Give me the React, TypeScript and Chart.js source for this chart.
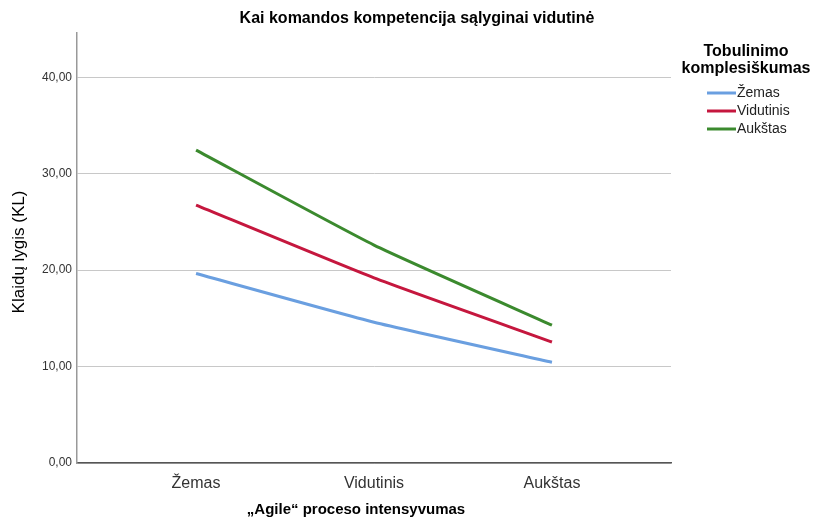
import React, { useEffect, useRef } from "react";
import { Chart, registerables } from "chart.js";

Chart.register(...registerables);

const categories = ["Žemas", "Vidutinis", "Aukštas"];
const seriesNames = ["Žemas", "Vidutinis", "Aukštas"];
const zemas = [19.65, 14.6, 10.45];
const vidutinis = [26.75, 19.2, 12.55];
const aukstas = [32.45, 22.6, 14.3];
const yTicks = [0, 10, 20, 30, 40];
const colors = ["#6a9fe0", "#c5173e", "#3b8a2e"];

const FONT = '"Liberation Sans", Arial, sans-serif';

export default function App() {
  const ref = useRef<HTMLCanvasElement | null>(null);

  useEffect(() => {
    if (!ref.current) return;
    const seriesValues = [zemas, vidutinis, aukstas];
    const datasets = seriesValues.map((vals, i) => ({
      label: seriesNames[i],
      data: vals.map((v, j) => ({ x: j, y: v })),
      borderColor: colors[i],
      backgroundColor: colors[i],
      borderWidth: 3,
      pointRadius: 0,
      tension: 0.15,
      fill: false,
    }));

    const decor = {
      id: "decor",
      afterDraw(chart: any) {
        const ctx = chart.ctx;
        const area = chart.chartArea;
        ctx.save();
        ctx.fillStyle = "#000";
        ctx.textBaseline = "middle";
        // main title
        ctx.font = `bold 16px ${FONT}`;
        ctx.textAlign = "center";
        ctx.fillText("Kai komandos kompetencija sąlyginai vidutinė", 417, 19);
        // x axis title
        ctx.font = `bold 15px ${FONT}`;
        ctx.fillText("„Agile“ proceso intensyvumas", 356, 510);
        // y axis title
        ctx.save();
        ctx.translate(19, 252);
        ctx.rotate(-Math.PI / 2);
        ctx.font = `17px ${FONT}`;
        ctx.fillText("Klaidų lygis (KL)", 0, 0);
        ctx.restore();
        // legend
        ctx.font = `bold 16px ${FONT}`;
        ctx.textAlign = "center";
        ctx.fillText("Tobulinimo", 746, 52);
        ctx.fillText("komplesiškumas", 746, 69);
        ctx.font = `14px ${FONT}`;
        ctx.textAlign = "left";
        seriesNames.forEach((n, i) => {
          const y = 93 + i * 18;
          ctx.strokeStyle = colors[i];
          ctx.lineWidth = 3;
          ctx.beginPath();
          ctx.moveTo(707, y);
          ctx.lineTo(736, y);
          ctx.stroke();
          ctx.fillStyle = "#222";
          ctx.fillText(n, 737, y);
        });
        ctx.restore();
      },
    };

    const chart = new Chart(ref.current, {
      type: "line",
      data: { datasets },
      options: {
        animation: false,
        responsive: false,
        maintainAspectRatio: false,
        layout: { padding: { left: 0, top: 33, right: 147, bottom: 0 } },
        plugins: {
          legend: { display: false },
          tooltip: { enabled: false },
          title: { display: false },
        },
        scales: {
          x: {
            type: "linear",
            min: -0.669,
            max: 2.669,
            afterBuildTicks: (scale: any) => {
              scale.ticks = categories.map((_, i) => ({ value: i }));
            },
            afterFit: (scale: any) => {
              scale.height = 57;
            },
            ticks: {
              callback: (v: any) => categories[v as number] ?? "",
              font: { family: FONT, size: 16 },
              color: "#333",
              padding: 11,
              maxRotation: 0,
            },
            grid: { display: false, drawTicks: false },
            border: { color: "#555", width: 1.5 },
          },
          y: {
            type: "linear",
            min: 0,
            max: 44.6,
            afterBuildTicks: (scale: any) => {
              scale.ticks = yTicks.map((v) => ({ value: v }));
            },
            afterFit: (scale: any) => {
              scale.width = 77;
            },
            ticks: {
              callback: (v: any) => Number(v).toFixed(2).replace(".", ","),
              font: { family: FONT, size: 12 },
              color: "#333",
              padding: 5,
            },
            grid: { color: "#c8c8c8", lineWidth: 1, drawTicks: false },
            border: { color: "#999", width: 1.5 },
          },
        },
      },
      plugins: [decor],
    });
    return () => chart.destroy();
  }, []);

  return (
    <div style={{ position: "fixed", left: 0, top: 0, width: 818, height: 520, background: "#fff" }}>
      <canvas ref={ref} width={818} height={520} style={{ width: 818, height: 520 }} />
    </div>
  );
}
